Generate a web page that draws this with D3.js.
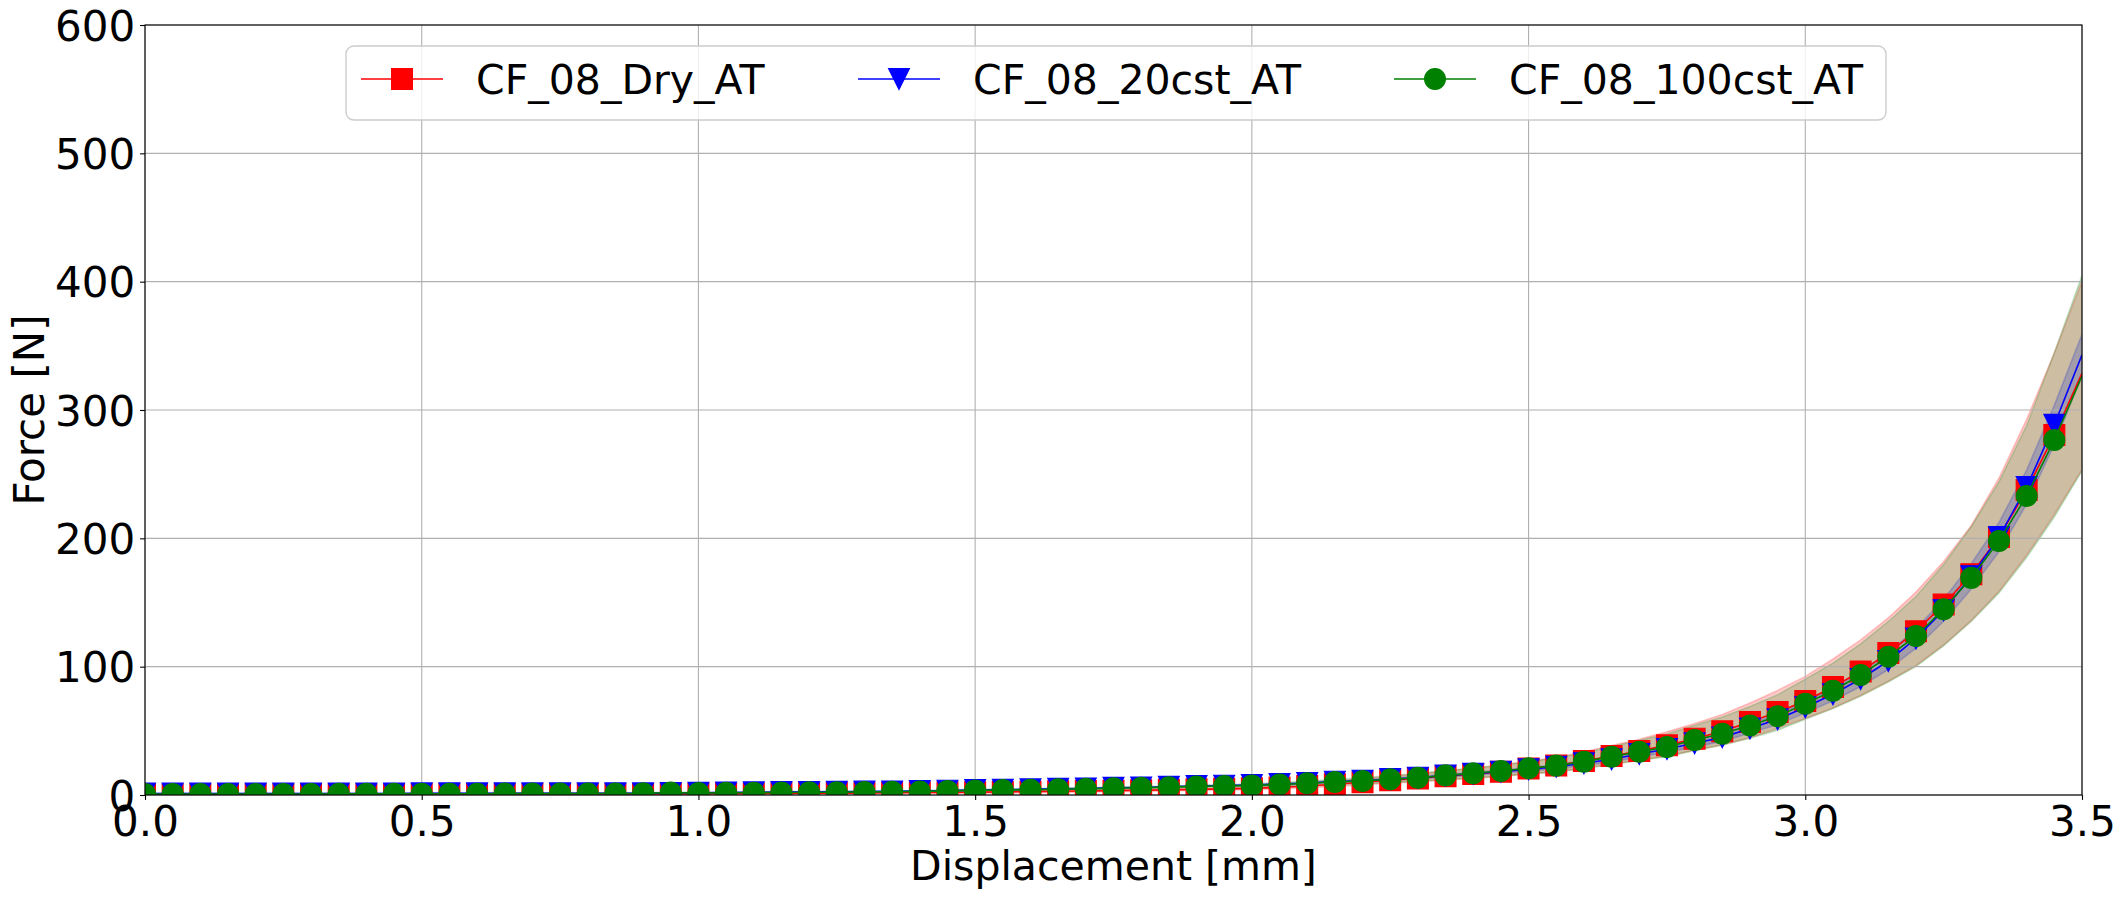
<!DOCTYPE html>
<html>
<head>
  <meta charset="utf-8">
  <title>Force vs Displacement</title>
  <script src="https://d3js.org/d3.v7.min.js"></script>
  <style>
    body { margin: 0; background: #fff; }
    svg { font-family: "DejaVu Sans", sans-serif; }
    .tick text { font-size: 42px; fill: #000; }
    .tick line { stroke: #000; stroke-width: 1.1px; }
    .grid line { stroke: #b0b0b0; stroke-width: 1.1px; }
  </style>
</head>
<body>
<div id="chart"></div>
<script>
// ---------- data (0.05 mm spacing) ----------
const displacement = [0.00,0.05,0.10,0.15,0.20,0.25,0.30,0.35,0.40,0.45,
  0.50,0.55,0.60,0.65,0.70,0.75,0.80,0.85,0.90,0.95,
  1.00,1.05,1.10,1.15,1.20,1.25,1.30,1.35,1.40,1.45,
  1.50,1.55,1.60,1.65,1.70,1.75,1.80,1.85,1.90,1.95,
  2.00,2.05,2.10,2.15,2.20,2.25,2.30,2.35,2.40,2.45,
  2.50,2.55,2.60,2.65,2.70,2.75,2.80,2.85,2.90,2.95,
  3.00,3.05,3.10,3.15,3.20,3.25,3.30,3.35,3.40,3.45,3.50];

// mean force [N]
const forceDry = [0.6,0.6,0.6,0.6,0.6,0.6,0.6,0.6,0.6,0.6,
  0.8,0.8,0.8,0.8,0.8,0.8,0.8,0.8,0.8,0.9,
  1.0,1.1,1.2,1.3,1.4,1.5,1.6,1.7,1.9,2.0,
  2.2,2.4,2.6,2.9,3.1,3.4,3.7,4.0,4.4,4.8,
  5.2,5.9,7.0,8.4,9.9,11.5,12.8,14.7,16.3,18.2,
  20.6,23.0,26.5,30.3,34.2,38.7,43.9,49.6,56.9,64.7,
  73.2,84.2,96.3,110.6,127.6,148.4,172.0,201.0,237.7,280.5,328.6];
const force20cst = [1.1,1.1,1.1,1.1,1.1,1.1,1.1,1.1,1.1,1.1,
  1.3,1.3,1.3,1.3,1.3,1.3,1.3,1.3,1.3,1.6,
  1.8,2.0,2.1,2.3,2.4,2.5,2.7,2.8,3.1,3.4,
  3.8,4.1,4.4,4.8,5.1,5.6,5.9,6.4,7.0,7.3,
  7.8,8.5,9.4,10.4,11.1,12.4,13.5,15.1,16.5,18.2,
  20.0,22.0,24.8,27.8,31.9,35.8,40.3,44.9,51.9,59.0,
  68.3,78.5,90.4,104.4,122.0,144.0,170.5,201.0,240.0,288.5,343.0];
const force100cst = [0.8,0.8,0.8,0.8,0.8,0.8,0.8,0.9,0.9,0.9,
  1.0,1.0,1.0,1.1,1.1,1.1,1.2,1.2,1.3,1.9,
  1.5,1.7,1.8,2.0,2.1,2.2,2.4,2.5,2.8,3.2,
  3.6,3.9,4.1,4.5,4.8,5.3,5.6,6.1,6.7,7.0,
  7.5,8.2,9.1,10.2,10.9,12.3,13.4,15.3,16.9,18.7,
  20.8,22.9,26.0,29.9,33.7,37.4,42.9,47.8,54.2,61.4,
  71.2,81.3,93.5,107.8,123.9,144.7,169.2,198.0,233.0,276.6,326.5];

// spread of the shaded bands [N] above / below the mean
const dryUp = [0.4,0.4,0.4,0.4,0.4,0.4,0.4,0.4,0.4,0.4,
  0.4,0.4,0.4,0.4,0.4,0.4,0.4,0.4,0.4,0.4,
  0.6,0.6,0.6,0.6,0.6,0.6,0.6,0.6,0.6,0.6,
  0.9,0.9,0.9,0.9,0.9,0.9,0.9,0.9,0.9,0.9,
  1.3,1.6,2.0,2.4,2.8,3.2,3.6,4.0,4.5,5.0,
  5.6,6.3,7.2,8.2,9.3,10.5,11.8,13.2,14.8,16.8,
  19.2,21.8,24.5,27.5,30.5,33.5,38,46,55,64,72];
const dryDown = [0.4,0.4,0.4,0.4,0.4,0.4,0.4,0.4,0.4,0.4,
  0.4,0.4,0.4,0.4,0.4,0.4,0.4,0.4,0.4,0.4,
  0.6,0.6,0.6,0.6,0.6,0.6,0.6,0.6,0.6,0.6,
  0.9,0.9,0.9,0.9,0.9,0.9,0.9,0.9,0.9,0.9,
  1.0,1.2,1.4,1.7,2.0,2.3,2.6,3.0,3.4,3.8,
  4.3,4.9,5.6,6.3,7.1,8.2,9.0,10.5,12.2,12.8,
  13.5,16.4,18.8,22.0,26.8,31.5,36.0,42.5,51,62,75];
const spread20cst = [0.2,0.2,0.2,0.2,0.2,0.2,0.2,0.2,0.2,0.2,
  0.2,0.2,0.2,0.2,0.2,0.2,0.2,0.2,0.2,0.2,
  0.2,0.2,0.2,0.2,0.2,0.2,0.2,0.2,0.2,0.2,
  0.3,0.3,0.3,0.3,0.3,0.3,0.3,0.3,0.3,0.3,
  0.4,0.5,0.5,0.6,0.7,0.8,0.9,1.0,1.1,1.3,
  1.4,1.6,1.8,2.0,2.2,2.5,2.8,3.2,3.6,4.0,
  4.5,5.1,5.8,6.6,7.5,8.6,9.9,11.4,13.3,15.3,16];
const up100cst = [0.4,0.4,0.4,0.4,0.4,0.4,0.4,0.4,0.4,0.4,
  0.4,0.4,0.4,0.4,0.4,0.4,0.4,0.4,0.4,0.4,
  0.6,0.6,0.6,0.6,0.6,0.6,0.6,0.6,0.6,0.6,
  0.9,0.9,0.9,0.9,0.9,0.9,0.9,0.9,0.9,0.9,
  1.2,1.5,1.8,2.1,2.5,2.9,3.3,3.7,4.2,4.7,
  5.3,6.0,6.9,7.9,9.0,10.2,11.5,13.0,14.8,16.8,
  19.0,21.5,24.3,27.4,30.8,35,40,46,55,68,78.5];
const down100cst = [0.4,0.4,0.4,0.4,0.4,0.4,0.4,0.4,0.4,0.4,
  0.4,0.4,0.4,0.4,0.4,0.4,0.4,0.4,0.4,0.4,
  0.6,0.6,0.6,0.6,0.6,0.6,0.6,0.6,0.6,0.6,
  0.9,0.9,0.9,0.9,0.9,0.9,0.9,0.9,0.9,0.9,
  1.2,1.4,1.6,1.9,2.2,2.5,2.8,3.2,3.6,4.0,
  4.4,4.9,5.5,6.1,6.8,7.5,8.3,9.1,10.0,11.0,
  12.2,14.0,16.5,19.8,23.8,28.5,34,40.5,48,60,74];

const xTicks = [0, 0.5, 1.0, 1.5, 2.0, 2.5, 3.0, 3.5];
const yTicks = [0, 100, 200, 300, 400, 500, 600];

const seriesNames = ["CF_08_Dry_AT", "CF_08_20cst_AT", "CF_08_100cst_AT"];
const seriesColors = ["#ff0000", "#0000ff", "#008000"];
const seriesMarkers = ["square", "triangleDown", "circle"];

// ---------- chart setup ----------
const width = 2125, height = 900;
const plot = { left: 145, right: 2082, top: 25, bottom: 795 };

const x = d3.scaleLinear().domain([0, 3.5]).range([plot.left, plot.right]);
const y = d3.scaleLinear().domain([0, 600]).range([plot.bottom, plot.top]);

const series = [
  { mean: forceDry,    up: dryUp,       down: dryDown },
  { mean: force20cst,  up: spread20cst, down: spread20cst },
  { mean: force100cst, up: up100cst,    down: down100cst }
].map((s, k) => ({
  name: seriesNames[k], color: seriesColors[k], marker: seriesMarkers[k],
  points: displacement.map((d, i) => ({ x: d, y: s.mean[i], lo: s.mean[i] - s.down[i], hi: s.mean[i] + s.up[i] }))
}));

const svg = d3.select("#chart").append("svg")
    .attr("width", width)
    .attr("height", height);

svg.append("rect").attr("width", width).attr("height", height).attr("fill", "#fff");

svg.append("clipPath").attr("id", "plotclip")
  .append("rect")
    .attr("x", plot.left).attr("y", plot.top)
    .attr("width", plot.right - plot.left).attr("height", plot.bottom - plot.top);

const ms = 20.8;  // marker size in px
function markerPath(type, s) {
  const h = s / 2;
  if (type === "square") return `M${-h},${-h}H${h}V${h}H${-h}Z`;
  if (type === "triangleDown") return `M${-h},${-h}L${h},${-h}L0,${h}Z`;
  return d3.symbol(d3.symbolCircle, Math.PI * h * h)();
}

// shaded bands (drawn first, under grid and lines)
const bandLayer = svg.append("g").attr("clip-path", "url(#plotclip)");
const area = d3.area().x(d => x(d.x)).y0(d => y(d.lo)).y1(d => y(d.hi));
series.forEach(s => {
  bandLayer.append("path")
    .datum(s.points)
    .attr("d", area)
    .attr("fill", s.color).attr("fill-opacity", 0.2)
    .attr("stroke", s.color).attr("stroke-opacity", 0.2)
    .attr("stroke-width", 1.6);
});

// grid
svg.append("g").attr("class", "grid")
  .selectAll("line.gx").data(xTicks).enter().append("line")
    .attr("x1", d => x(d)).attr("x2", d => x(d))
    .attr("y1", plot.top).attr("y2", plot.bottom);
svg.select(".grid")
  .selectAll("line.gy").data(yTicks).enter().append("line")
    .attr("x1", plot.left).attr("x2", plot.right)
    .attr("y1", d => y(d)).attr("y2", d => y(d));

// lines + markers
const dataLayer = svg.append("g").attr("clip-path", "url(#plotclip)");
const line = d3.line().x(d => x(d.x)).y(d => y(d.y));
series.forEach(s => {
  dataLayer.append("path")
    .datum(s.points)
    .attr("d", line)
    .attr("fill", "none")
    .attr("stroke", s.color)
    .attr("stroke-width", 1.6);

  dataLayer.append("g")
    .selectAll("path")
    .data(s.points.filter(d => d.x < 3.5))
    .enter().append("path")
      .attr("d", markerPath(s.marker, ms))
      .attr("transform", d => `translate(${x(d.x)},${y(d.y)})`)
      .attr("fill", s.color)
      .attr("stroke", s.color)
      .attr("stroke-width", 1.2);
});

// axes
const xAxis = svg.append("g")
    .attr("transform", `translate(0,${plot.bottom})`)
    .call(d3.axisBottom(x).tickValues(xTicks).tickFormat(d3.format(".1f")).tickSize(4.9).tickPadding(6));
const yAxis = svg.append("g")
    .attr("transform", `translate(${plot.left},0)`)
    .call(d3.axisLeft(y).tickValues(yTicks).tickSize(4.9).tickPadding(5));
xAxis.select(".domain").remove();
yAxis.select(".domain").remove();
yAxis.selectAll(".tick text").attr("dy", "0.36em");
svg.selectAll(".tick text").attr("font-family", "DejaVu Sans").attr("font-size", 42);

// spines
svg.append("rect")
  .attr("x", plot.left).attr("y", plot.top)
  .attr("width", plot.right - plot.left).attr("height", plot.bottom - plot.top)
  .attr("fill", "none").attr("stroke", "#000").attr("stroke-width", 1.1);

// axis labels
svg.append("text")
  .attr("x", (plot.left + plot.right) / 2).attr("y", 880)
  .attr("text-anchor", "middle").attr("font-size", 41)
  .text("Displacement [mm]");
svg.append("text")
  .attr("transform", `translate(43.5,${(plot.top + plot.bottom) / 2}) rotate(-90)`)
  .attr("text-anchor", "middle").attr("font-size", 42)
  .text("Force [N]");

// legend
const legend = svg.append("g");
legend.append("rect")
  .attr("x", 346).attr("y", 46).attr("width", 1540).attr("height", 74)
  .attr("rx", 8).attr("ry", 8)
  .attr("fill", "#fff").attr("fill-opacity", 0.8)
  .attr("stroke", "#cccccc").attr("stroke-width", 1.4);

const legendX = [361, 858, 1394];
const legendY = 79;
series.forEach((s, k) => {
  const g = legend.append("g").attr("transform", `translate(${legendX[k]},${legendY})`);
  g.append("line").attr("x1", 0).attr("x2", 82).attr("y1", 0).attr("y2", 0)
    .attr("stroke", s.color).attr("stroke-width", 1.6);
  g.append("path").attr("d", markerPath(s.marker, ms))
    .attr("transform", "translate(41,0)")
    .attr("fill", s.color).attr("stroke", s.color).attr("stroke-width", 1.2);
  g.append("text").attr("x", 115).attr("y", 15)
    .attr("font-size", 41).text(s.name);
});
</script>
</body>
</html>
